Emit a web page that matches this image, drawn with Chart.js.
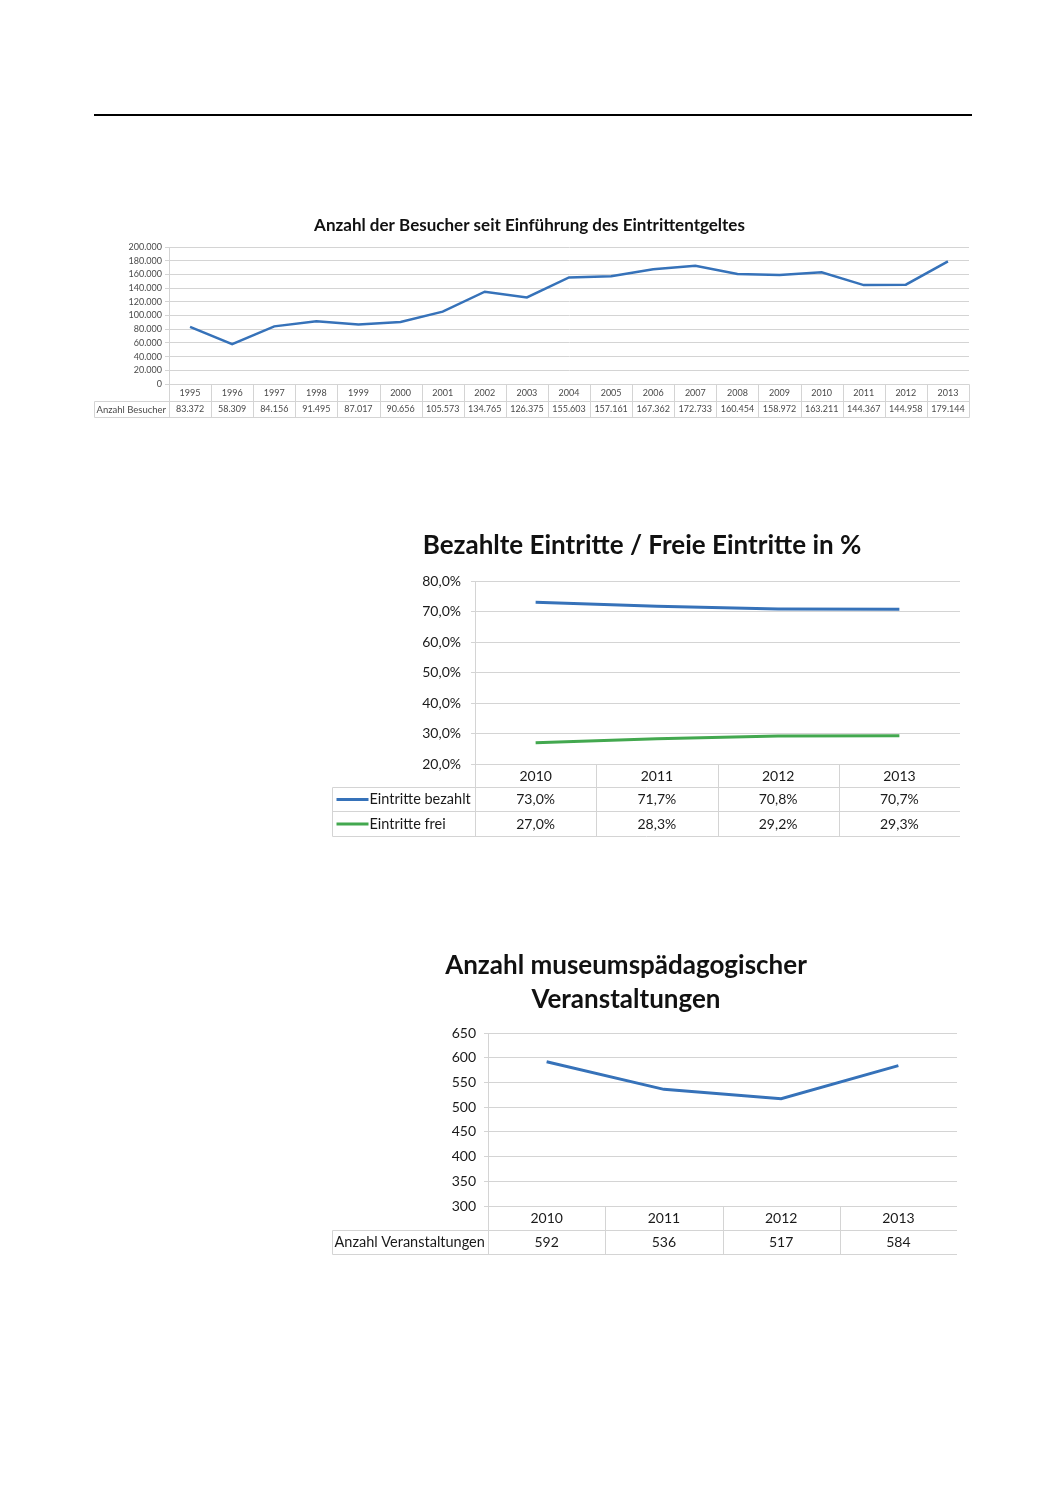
<!DOCTYPE html>
<html>
<head>
<meta charset="utf-8">
<script src="https://cdn.jsdelivr.net/npm/chart.js@4.4.1/dist/chart.umd.min.js"></script>
<style>
body { margin: 0; background: #fff; }
#page { position: relative; width: 1052px; height: 1485px; }
.rule { position: absolute; left: 94px; top: 114px; width: 878px; border-top: 2px solid #000; }
canvas { position: absolute; }
</style>
</head>
<body>
<div id="page">
  <div class="rule"></div>
  <canvas id="c1" width="885" height="220" style="left:90px;top:205px"></canvas>
  <canvas id="c2" width="636" height="320" style="left:324px;top:525px"></canvas>
  <canvas id="c3" width="662" height="322" style="left:295px;top:940px"></canvas>
</div>
<script>
// chart 1: visitors since entrance fee
var years1 = ['1995', '1996', '1997', '1998', '1999', '2000', '2001', '2002', '2003', '2004',
              '2005', '2006', '2007', '2008', '2009', '2010', '2011', '2012', '2013'];
var visitors = [83372, 58309, 84156, 91495, 87017, 90656, 105573, 134765, 126375, 155603,
                157161, 167362, 172733, 160454, 158972, 163211, 144367, 144958, 179144];

// chart 2: paid / free entries in %
var years2 = ['2010', '2011', '2012', '2013'];
var paid = [73.0, 71.7, 70.8, 70.7];
var free = [27.0, 28.3, 29.2, 29.3];

// chart 3: museum education events
var years3 = ['2010', '2011', '2012', '2013'];
var events = [592, 536, 517, 584];

var BLUE = '#3672b9';
var GREEN = '#43a84f';
var GRID = '#d4d4d4';
var FONT = 'Lato';

function dots(v) {
  return String(Math.round(v)).replace(/\B(?=(\d{3})+(?!\d))/g, '.');
}
function pct(v) {
  return v.toFixed(1).replace('.', ',') + '%';
}

// draws the data table under the plot, columns follow the x scale
var dataTable = {
  id: 'dataTable',
  afterDraw: function(chart, args, o) {
    var ctx = chart.ctx, area = chart.chartArea;
    var xs = chart.scales.x, ys = chart.scales.y;
    var n = chart.data.labels.length;
    var left = Math.round(ys.left + o.inset) + 0.5;
    var right = Math.round(area.right) + 0.5;
    var top = Math.round(area.bottom) + 0.5;
    var bounds = [Math.round(area.left) + 0.5];
    for (var i = 0; i < n - 1; i++) {
      bounds.push(Math.round((xs.getPixelForValue(i) + xs.getPixelForValue(i + 1)) / 2) + 0.5);
    }
    bounds.push(right);
    var rows = o.rowHeights;
    var bottom = top;
    rows.forEach(function(h) { bottom += h; });

    ctx.save();
    ctx.strokeStyle = o.lineColor;
    ctx.lineWidth = 1;
    ctx.beginPath();
    ctx.moveTo(bounds[0], top); ctx.lineTo(right, top);
    var yy = top;
    rows.forEach(function(h) {
      yy += h;
      ctx.moveTo(left, yy); ctx.lineTo(right, yy);
    });
    bounds.forEach(function(b) { ctx.moveTo(b, top); ctx.lineTo(b, bottom); });
    ctx.moveTo(left, top + rows[0]); ctx.lineTo(left, bottom);
    ctx.stroke();

    ctx.fillStyle = o.color;
    ctx.font = o.size + 'px ' + FONT;
    ctx.textBaseline = 'middle';
    ctx.textAlign = 'center';
    var cy = top + rows[0] / 2;
    chart.data.labels.forEach(function(lab, i) {
      ctx.fillText(lab, xs.getPixelForValue(i), cy);
    });
    yy = top + rows[0];
    chart.data.datasets.forEach(function(ds, r) {
      var h = rows[r + 1];
      var c = yy + h / 2;
      ctx.textAlign = 'center';
      ds.data.forEach(function(v, i) {
        ctx.fillText(o.format(v), xs.getPixelForValue(i), c);
      });
      var tx = left + 2;
      if (o.legend) {
        ctx.strokeStyle = ds.borderColor;
        ctx.lineWidth = 3;
        ctx.beginPath();
        ctx.moveTo(left + 4, c); ctx.lineTo(left + 36, c);
        ctx.stroke();
        tx = left + 37;
      }
      ctx.textAlign = 'left';
      ctx.font = (o.labelSize || o.size) + 'px ' + FONT;
      ctx.fillText(ds.label, tx, c);
      ctx.font = o.size + 'px ' + FONT;
      yy += h;
    });
    ctx.restore();
  }
};

function makeChart(id, cfg) {
  return new Chart(document.getElementById(id), {
    type: 'line',
    data: { labels: cfg.labels, datasets: cfg.datasets },
    plugins: [dataTable],
    options: {
      responsive: false,
      animation: false,
      layout: { padding: cfg.padding },
      elements: { point: { radius: 0 }, line: { tension: 0 } },
      plugins: {
        legend: { display: false },
        tooltip: { enabled: false },
        title: {
          display: true,
          text: cfg.title,
          color: '#111',
          font: { family: FONT, size: cfg.titleSize, weight: 'bold', lineHeight: cfg.titleLH },
          padding: cfg.titlePad
        },
        dataTable: cfg.table
      },
      scales: {
        x: {
          type: 'category',
          offset: true,
          grid: { display: false },
          border: { display: false },
          ticks: { display: false },
          afterFit: function(s) { s.height = cfg.xHeight; }
        },
        y: {
          min: cfg.yMin,
          max: cfg.yMax,
          grid: { color: GRID, tickLength: 4 },
          border: { color: GRID },
          ticks: {
            stepSize: cfg.yStep,
            autoSkip: false,
            padding: cfg.tickPad,
            color: cfg.tickColor,
            font: { family: FONT, size: cfg.tickSize },
            callback: cfg.yFormat
          },
          afterFit: function(s) { s.width = cfg.yWidth; }
        }
      }
    }
  });
}

makeChart('c1', {
  labels: years1,
  datasets: [{ label: 'Anzahl Besucher', data: visitors, borderColor: BLUE, borderWidth: 2.5 }],
  padding: { left: 0, right: 6, top: 0, bottom: 8 },
  title: 'Anzahl der Besucher seit Einführung des Eintrittentgeltes',
  titleSize: 17, titleLH: 1.2, titlePad: { top: 10.3, bottom: 11.3 },
  xHeight: 33, yWidth: 79,
  yMin: 0, yMax: 200000, yStep: 20000, yFormat: function(v) { return dots(v); },
  tickPad: 3, tickSize: 9, tickColor: '#4a4a4a',
  table: { rowHeights: [17, 16], inset: 4, lineColor: GRID, color: '#4a4a4a', size: 9, labelSize: 9.5, format: dots, legend: false }
});

makeChart('c2', {
  labels: years2,
  datasets: [
    { label: 'Eintritte bezahlt', data: paid, borderColor: BLUE, borderWidth: 3 },
    { label: 'Eintritte frei', data: free, borderColor: GREEN, borderWidth: 3 }
  ],
  padding: { left: 0, right: 0, top: 0, bottom: 9 },
  title: 'Bezahlte Eintritte / Freie Eintritte in %',
  titleSize: 26, titleLH: 1.2, titlePad: { top: 5.4, bottom: 19.4 },
  xHeight: 72, yWidth: 151,
  yMin: 20, yMax: 80, yStep: 10, yFormat: function(v) { return pct(v); },
  tickPad: 10, tickSize: 14, tickColor: '#1a1a1a',
  table: { rowHeights: [23, 24, 25], inset: 8, lineColor: GRID, color: '#1a1a1a', size: 14, labelSize: 14.5, format: pct, legend: true }
});

makeChart('c3', {
  labels: years3,
  datasets: [{ label: 'Anzahl Veranstaltungen', data: events, borderColor: BLUE, borderWidth: 3 }],
  padding: { left: 0, right: 0, top: 0, bottom: 8 },
  title: ['Anzahl museumspädagogischer', 'Veranstaltungen'],
  titleSize: 26, titleLH: '34px', titlePad: { top: 9, bottom: 16 },
  xHeight: 48, yWidth: 193,
  yMin: 300, yMax: 650, yStep: 50, yFormat: function(v) { return v; },
  tickPad: 8, tickSize: 14, tickColor: '#1a1a1a',
  table: { rowHeights: [24, 24], inset: 37, lineColor: GRID, color: '#1a1a1a', size: 14, labelSize: 14.5, format: function(v) { return String(v); }, legend: false }
});
</script>
</body>
</html>
